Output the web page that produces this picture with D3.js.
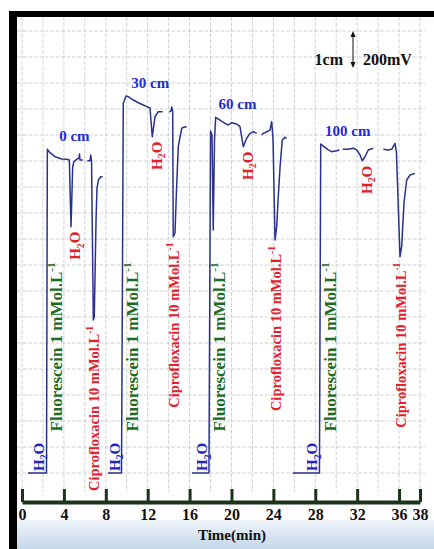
<!DOCTYPE html>
<html>
<head>
<meta charset="utf-8">
<script src="https://cdn.jsdelivr.net/npm/d3@7"></script>
<style>
  body { margin: 0; background: #fff; }
  svg { display: block; font-family: "Liberation Serif", "DejaVu Serif", serif; font-weight: bold; }
</style>
</head>
<body>
<svg id="chart" width="434" height="549"></svg>
<script>
// time axis (min)
const timeTicks = [0, 4, 8, 12, 16, 20, 24, 28, 32, 36, 38];
const distances = ["0 cm", "30 cm", "60 cm", "100 cm"];

// recorder traces: [time (min), signal (mV)], null = pen lifted
const trace0cm = [
  [0.57, 0], [2.34, 0], [2.42, 2490], [2.67, 2464], [3.15, 2433], [3.79, 2415], [4.27, 2413],
  [4.52, 2408], [4.68, 1895], [4.84, 2356], [4.96, 2395], [5.22, 2413], [5.44, 2423],
  [5.49, 2454], [5.54, 2408], [5.80, 2408], null,
  [6.23, 2402], [6.49, 2402], [6.56, 2446], [6.64, 2400], [6.81, 1177], [6.90, 1202],
  [7.07, 1946], [7.16, 2192], [7.30, 2254], [7.51, 2279], [7.70, 2279]
];
const trace30cm = [
  [8.21, 0], [9.50, 0], [9.67, 2844], [9.93, 2900], [10.15, 2895], [10.63, 2869], [11.10, 2848],
  [11.58, 2831], [12.06, 2813], [12.22, 2808], [12.44, 2587], [12.70, 2741], [13.01, 2779],
  [13.43, 2779], null,
  [14.06, 2775], [14.22, 2785], [14.29, 2815], [14.39, 2779], [14.44, 1818], [14.61, 1846],
  [14.75, 2177], [14.92, 2510], [15.25, 2652], [15.56, 2664], [15.72, 2659]
];
const trace60cm = [
  [16.23, 0], [17.85, 0], [18.00, 2631], [18.14, 2600], [18.26, 1869], [18.38, 2562],
  [18.49, 2736], [18.90, 2715], [19.38, 2690], [19.70, 2677], [20.02, 2695], [20.50, 2685],
  [20.81, 2664], [21.13, 2510], [21.45, 2575], [21.77, 2613], [22.08, 2625], [22.41, 2613], null,
  [22.89, 2600], [23.04, 2613], [23.36, 2625], [23.68, 2638], [23.84, 2702], [23.97, 2562],
  [24.16, 1792], [24.32, 1895], [24.45, 2100], [24.64, 2356], [24.85, 2562], [25.11, 2582],
  [25.27, 2575]
];
const trace100cm = [
  [25.87, 0], [28.40, 0], [28.52, 2531], [28.77, 2515], [29.24, 2485], [29.57, 2472],
  [30.05, 2479], [30.30, 2485], null,
  [30.62, 2490], [31.15, 2490], [31.63, 2498], [31.96, 2485], [32.27, 2446], [32.49, 2402],
  [32.75, 2433], [33.06, 2485], [33.54, 2498], null,
  [34.50, 2490], [34.97, 2485], [35.30, 2490], [35.61, 2536], [35.75, 2469], [36.09, 1664],
  [36.25, 1741], [36.47, 2077], [36.73, 2254], [37.05, 2292], [37.53, 2305]
];
const traces = [trace0cm, trace30cm, trace60cm, trace100cm];

const traceColor = "#2b318c";
const titleColor = "#1f2bd6";
const redColor = "#e3202a";
const greenColor = "#1d6a24";
const axisColor = "#1b331b";

const svg = d3.select("#chart");

const xScale = d3.scaleLinear().domain([0, 38]).range([22, 420]);
// grid: 1 square = 200 mV
const yScale = d3.scaleLinear().domain([0, 3500]).range([473, 18]);

// light blue band under the axis
const defs = svg.append("defs");
const grad = defs.append("linearGradient").attr("id", "band").attr("x1", 0).attr("y1", 0).attr("x2", 0).attr("y2", 1);
grad.append("stop").attr("offset", 0).attr("stop-color", "#eef4fa");
grad.append("stop").attr("offset", 1).attr("stop-color", "#c4d7ea");
svg.append("rect").attr("x", 17).attr("y", 520).attr("width", 417).attr("height", 29).attr("fill", "url(#band)");

// graph paper
const grid = svg.append("g").attr("stroke", "#c4c8cc").attr("stroke-width", 0.8).attr("stroke-dasharray", "4,1.5");
grid.selectAll(".vline")
  .data(d3.range(0, 39, 2))
  .enter()
  .append("line")
  .attr("x1", (t) => xScale(t))
  .attr("x2", (t) => xScale(t))
  .attr("y1", 17)
  .attr("y2", 492);
grid.selectAll(".hline")
  .data(d3.range(0, 3401, 200))
  .enter()
  .append("line")
  .attr("x1", 17)
  .attr("x2", 425)
  .attr("y1", (v) => yScale(v))
  .attr("y2", (v) => yScale(v));

// black frame
svg.append("rect").attr("x", 9).attr("y", 11).attr("width", 8).attr("height", 538).attr("fill", "#000");
svg.append("rect").attr("x", 9).attr("y", 11).attr("width", 425).attr("height", 6).attr("fill", "#000");

// x axis, ticks pointing up
const axisG = svg.append("g")
  .attr("transform", "translate(0,502)")
  .call(d3.axisBottom(xScale).tickValues(timeTicks).tickSize(-13).tickSizeOuter(0).tickPadding(7));
axisG.attr("font-family", null).attr("font-size", 16);
axisG.select(".domain").attr("stroke", axisColor).attr("stroke-width", 4);
axisG.selectAll(".tick line").attr("stroke", axisColor).attr("stroke-width", 3);
axisG.selectAll(".tick text").attr("fill", "#111");

svg.append("text")
  .attr("x", 232)
  .attr("y", 540)
  .attr("text-anchor", "middle")
  .attr("font-size", 15)
  .attr("fill", "#111")
  .text("Time(min)");

// traces
const line = d3.line()
  .defined((d) => d !== null)
  .x((d) => xScale(d[0]))
  .y((d) => yScale(d[1]));

svg.append("g")
  .selectAll("path")
  .data(traces)
  .enter()
  .append("path")
  .attr("d", line)
  .attr("fill", "none")
  .attr("stroke", traceColor)
  .attr("stroke-width", 1.5)
  .attr("stroke-linejoin", "round");

// rotated label helper, parts = [text, "sup" | "sub" | ""]
// x is the centre of the glyphs, text reads bottom to top
function rotLabel(x, y, anchor, color, size, parts) {
  const t = svg.append("text")
    .attr("transform", `translate(${x},${y}) rotate(-90)`)
    .attr("text-anchor", anchor)
    .attr("font-size", size)
    .attr("fill", color);
  let shift = 0;
  parts.forEach(([s, kind]) => {
    const target = 0.35 * size + (kind === "sup" ? -0.42 * size : kind === "sub" ? 0.25 * size : 0);
    t.append("tspan")
      .attr("dy", target - shift)
      .attr("font-size", kind ? size * 0.65 : size)
      .text(s);
    shift = target;
  });
}

traces.forEach((trace, i) => {
  const pts = trace.filter((d) => d !== null);
  const rise = pts.find((d) => d[1] > 1000);
  const peak = d3.greatest(pts.filter((d) => d[0] >= rise[0] && d[0] <= rise[0] + 1), (d) => d[1]);
  const cipro = d3.least(pts.filter((d) => d[0] > rise[0]), (d) => d[1]);
  const h2o = d3.least(pts.filter((d) => d[0] > peak[0] && d[0] < cipro[0] - 0.4), (d) => d[1]);

  svg.append("text")
    .attr("x", xScale(rise[0]) + 27)
    .attr("y", yScale(peak[1]) - 8)
    .attr("text-anchor", "middle")
    .attr("font-size", 15)
    .attr("fill", titleColor)
    .text(distances[i]);

  rotLabel(xScale(rise[0]) - 9, yScale(0) - 2, "start", "#2424c4", 15,
    [["H", ""], ["2", "sub"], ["O", ""]]);
  rotLabel(xScale(rise[0]) + 9, yScale(320), "start", greenColor, 17,
    [["Fluorescein 1 mMol.L", ""], ["-1", "sup"]]);
  rotLabel(xScale(h2o[0]) + 4, yScale(h2o[1]) + 5, "end", redColor, 15,
    [["H", ""], ["2", "sub"], ["O", ""]]);
  rotLabel(xScale(cipro[0]) + 1, yScale(cipro[1]) + 6, "end", redColor, 14.5,
    [["Ciprofloxacin 10 mMol.L", ""], ["-1", "sup"]]);
});

// scale bar 1cm = 200mV
const scaleBar = svg.append("g").attr("fill", "#111");
scaleBar.append("text").attr("x", 343).attr("y", 65).attr("text-anchor", "end").attr("font-size", 16).text("1cm");
scaleBar.append("text").attr("x", 363).attr("y", 65).attr("font-size", 16).text("200mV");
scaleBar.append("line").attr("x1", 353).attr("x2", 353).attr("y1", 33).attr("y2", 66).attr("stroke", "#111").attr("stroke-width", 1);
scaleBar.append("path").attr("d", "M350.5,37L353,31L355.5,37Z");
scaleBar.append("path").attr("d", "M350.5,62L353,68L355.5,62Z");
</script>
</body>
</html>
